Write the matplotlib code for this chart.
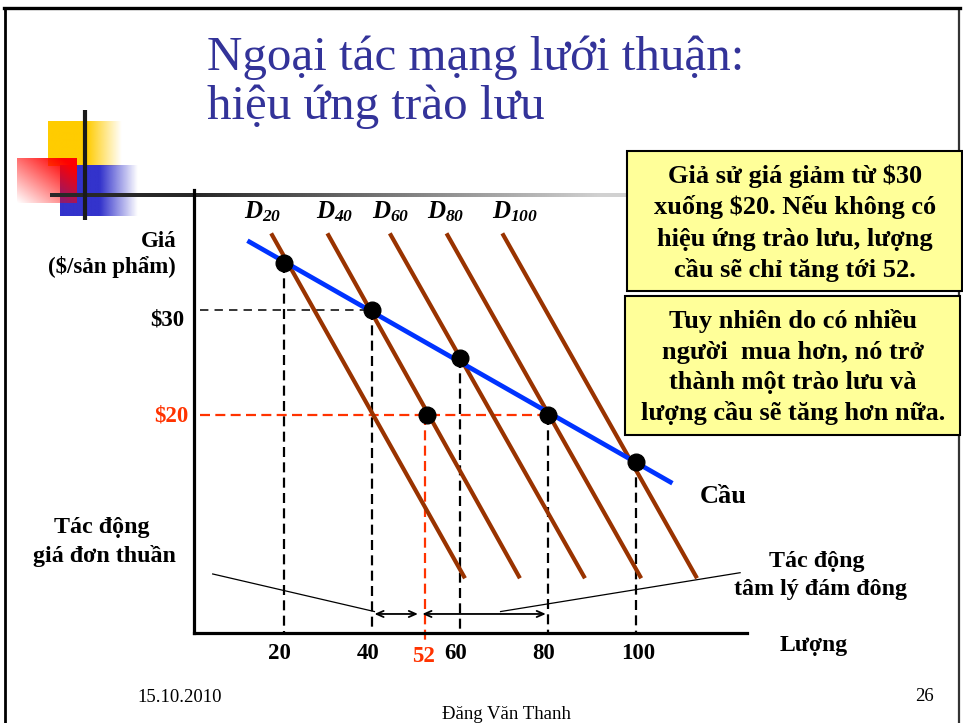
import matplotlib
matplotlib.use('Agg')
import matplotlib.pyplot as plt
import numpy as np
from matplotlib.patches import Rectangle

# ---------------- data ----------------
demand_q = [20, 40, 60, 80, 100]            # equilibrium quantities on the bandwagon demand
demand_p = [34.5, 30, 25.4, 20, 15.5]       # prices at those points
curve_names = ['D_{20}', 'D_{40}', 'D_{60}', 'D_{80}', 'D_{100}']
curve_top_q = [17.1, 29.9, 44.1, 57.0, 69.7]
curve_bottom_q = [61.2, 73.7, 88.5, 101.3, 114.0]
curve_top_p = 37.3
curve_bottom_p = 4.45
bandwagon_q = [11.7, 108.4]
bandwagon_p = [36.6, 13.5]
price_old = 30
price_new = 20
q_pure = 52            # quantity without bandwagon effect
q_pure_dot = 52.6
x_ticks = [20, 40, 60, 80, 100]
x_tick_labels = ['20', '40', '60', '80', '100']
arrow_p = 1.05
arrow_pure = [40.6, 50.5]
arrow_bandwagon = [51.5, 79.6]
callout_left_q = [3.8, 40.6]
callout_left_p = [4.86, 1.28]
callout_right_q = [69.3, 123.8]
callout_right_p = [1.28, 4.98]

title_lines = ['Ngoại tác mạng lưới thuận:', 'hiệu ứng trào lưu']
box1_lines = ['Giả sử giá giảm từ $30', 'xuống $20. Nếu không có',
              'hiệu ứng trào lưu, lượng', 'cầu sẽ chỉ tăng tới 52.']
box2_lines = ['Tuy nhiên do có nhiều', 'người  mua hơn, nó trở',
              'thành một trào lưu và', 'lượng cầu sẽ tăng hơn nữa.']

# ---------------- style ----------------
W, H = 963, 723
plt.rcParams['font.family'] = ['Liberation Serif', 'DejaVu Serif']
plt.rcParams['mathtext.fontset'] = 'custom'
plt.rcParams['mathtext.rm'] = 'Liberation Serif:bold:italic'
plt.rcParams['mathtext.it'] = 'Liberation Serif:bold:italic'
plt.rcParams['mathtext.bf'] = 'Liberation Serif:bold:italic'

BROWN = '#993300'
BLUE = '#0033FF'
RED = '#FF3300'
TITLE = '#333399'

fig = plt.figure(figsize=(W / 100, H / 100), dpi=100)
fig.patch.set_facecolor('white')

# background axes in pixel coordinates (decorations, frame, boxes)
bg = fig.add_axes([0, 0, 1, 1])
bg.set_axis_off()


def grad_h(color, x0, x1, y0, y1, solid_to, fade_to, n=200):
    xs = np.linspace(x0, x1, n)
    a = np.clip((fade_to - xs) / (fade_to - solid_to), 0, 1)
    rgb = matplotlib.colors.to_rgb(color)
    img = np.zeros((1, n, 4))
    img[..., 0], img[..., 1], img[..., 2] = rgb
    img[0, :, 3] = a
    bg.imshow(img, extent=(x0, x1, y1, y0), aspect='auto', interpolation='bilinear', zorder=1)


# yellow square with fade
grad_h('#FFCC00', 48, 122, 121, 166, 87, 122)
# blue square with fade
grad_h('#3333CC', 60, 138, 165, 216, 100, 138)
# red square with diagonal gradient
n = 100
u = np.linspace(0, 1, n)[None, :]
v = np.linspace(0, 1, n)[:, None]
alpha = np.clip((u + (1 - v)) / 2 * 1.15, 0, 1)
red = np.zeros((n, n, 4))
red[..., 0] = 1.0
red[..., 3] = alpha
bg.imshow(red, extent=(17, 77, 203, 158), aspect='auto', interpolation='bilinear', zorder=2)

# gray header bar with gradient
m = 400
xs = np.linspace(50, 627, m)
g = np.clip((xs - 200) / (600 - 200), 0, 1)
shade = 0.16 + g * (0.82 - 0.16)
bar = np.zeros((1, m, 4))
bar[0, :, 0] = shade
bar[0, :, 1] = shade
bar[0, :, 2] = shade
bar[0, :, 3] = 1
bg.imshow(bar, extent=(50, 627, 197, 193), aspect='auto', interpolation='bilinear', zorder=3)
# black vertical decoration
bg.plot([85, 85], [110, 220], color='#1a1a1a', lw=3.0, zorder=4, solid_capstyle='butt')

# slide frame
bg.plot([5.3, 5.3], [7.5, H], color='black', lw=2.0, zorder=4, solid_capstyle='butt')
bg.plot([958.5, 958.5], [7.5, H], color='#333333', lw=1.6, zorder=4, solid_capstyle='butt')
bg.plot([4, 960], [7.5, 7.5], color='black', lw=2.4, zorder=4, solid_capstyle='projecting')

# yellow boxes
bg.add_patch(Rectangle((627, 151), 335, 140, fc='#FFFF99', ec='black', lw=1.5, zorder=5))
bg.add_patch(Rectangle((625, 296), 335, 139, fc='#FFFF99', ec='black', lw=1.5, zorder=5))

bg.set_xlim(0, W)
bg.set_ylim(H, 0)


def ptxt(x, y, s, **kw):
    kw.setdefault('parse_math', False)
    kw.setdefault('va', 'baseline')
    return bg.text(x, y, s, **kw)


# title
ptxt(207, 70, title_lines[0], fontsize=35.3, color=TITLE)
ptxt(207, 119, title_lines[1], fontsize=35.3, color=TITLE)

# box texts
for i, s in enumerate(box1_lines):
    ptxt(795, 183 + i * 31.3, s, fontsize=19, fontweight='bold', ha='center', zorder=6)
for i, s in enumerate(box2_lines):
    ptxt(793, 328 + i * 30.7, s, fontsize=19, fontweight='bold', ha='center', zorder=6)

# side labels
ptxt(176, 247, 'Giá', fontsize=16.5, fontweight='bold', ha='right')
ptxt(176, 273, '($/sản phẩm)', fontsize=16.5, fontweight='bold', ha='right')
ptxt(102, 533, 'Tác động', fontsize=17.3, fontweight='bold', ha='center')
ptxt(104, 562, 'giá đơn thuần', fontsize=17.3, fontweight='bold', ha='center')
ptxt(817, 567, 'Tác động', fontsize=17.3, fontweight='bold', ha='center')
ptxt(820, 595, 'tâm lý đám đông', fontsize=17.3, fontweight='bold', ha='center')
ptxt(700, 503, 'Cầu', fontsize=19, fontweight='bold')
ptxt(780, 651, 'Lượng', fontsize=17, fontweight='bold')

# footer
ptxt(137, 702, '15.10.2010', fontsize=13.5)
ptxt(915, 701, '26', fontsize=13.5)
ptxt(506, 719, 'Đăng Văn Thanh', fontsize=13.5, ha='center')

# curve name labels
label_x = [244, 316, 372, 427, 492]
for x, name in zip(label_x, curve_names):
    bg.text(x, 218, r'$' + name + r'$', fontsize=18, va='baseline', ha='left')

# ---------------- chart axes ----------------
def q_of(px):
    return (px - 196) / 4.395


def p_of(py):
    return 20 + (415 - py) / 10.5


ax = fig.add_axes([194 / W, 1 - 633 / H, (747 - 194) / W, (633 - 190) / H])
ax.set_facecolor('none')
ax.set_xlim(q_of(194), q_of(747))
ymin, ymax = p_of(633), p_of(190)
ax.set_ylim(ymin, ymax)
for side in ['top', 'right']:
    ax.spines[side].set_visible(False)
for side in ['left', 'bottom']:
    ax.spines[side].set_linewidth(2.3)
    ax.spines[side].set_color('black')
ax.set_xticks([])
ax.set_yticks([])

# dashed guides
for q, p in zip(demand_q, demand_p):
    ax.plot([q, q], [p, ymin], color='black', lw=1.6, dashes=(4.5, 2.4), zorder=2)
ax.plot([q_of(200), demand_q[1]], [price_old, price_old], color='black', lw=1.1,
        dashes=(5.5, 4), zorder=2)
ax.plot([q_of(200), demand_q[3]], [price_new, price_new], color=RED, lw=1.6,
        dashes=(4.5, 2.4), zorder=2)
ax.plot([q_pure, q_pure], [price_new, p_of(645)], color=RED, lw=1.6,
        dashes=(4.5, 2.4), zorder=2, clip_on=False)

# demand curves
for tq, bq in zip(curve_top_q, curve_bottom_q):
    ax.plot([tq, bq], [curve_top_p, curve_bottom_p], color=BROWN, lw=3.0,
            solid_capstyle='butt', zorder=3)
ax.plot(bandwagon_q, bandwagon_p, color=BLUE, lw=3.4, solid_capstyle='butt', zorder=3.5)

# points
ax.plot(demand_q, demand_p, 'o', color='black', ms=12, zorder=5)
ax.plot([q_pure_dot], [price_new], 'o', color='black', ms=12, zorder=5)

# callout lines and arrows
ax.plot(callout_left_q, callout_left_p, color='black', lw=0.9, zorder=2)
ax.plot(callout_right_q, callout_right_p, color='black', lw=0.9, zorder=2)
for a0, a1 in [arrow_pure, arrow_bandwagon]:
    ax.annotate('', xy=(a1, arrow_p), xytext=(a0, arrow_p),
                arrowprops=dict(arrowstyle='<->,head_length=0.5,head_width=0.22',
                                lw=1.3, color='black', shrinkA=0, shrinkB=0,
                                mutation_scale=10), zorder=4)

# tick labels
for q, lab in zip(x_ticks, x_tick_labels):
    dx = 3 if q == 100 else -4
    ax.annotate(lab, xy=(q, ymin), xytext=(dx * 0.72, -7), textcoords='offset points',
                ha='center', va='top', fontsize=16.5, fontweight='bold',
                annotation_clip=False)
ax.annotate(str(q_pure), xy=(q_pure, ymin), xytext=(-1, -9.5), textcoords='offset points',
            ha='center', va='top', fontsize=16.5, fontweight='bold', color=RED,
            annotation_clip=False)
ax.annotate('$30', xy=(q_of(184), price_old), xytext=(0, -7.5), textcoords='offset points',
            ha='right', va='center', fontsize=16.5, fontweight='bold', parse_math=False,
            annotation_clip=False)
ax.annotate('$20', xy=(q_of(188), price_new), xytext=(0, -0.5), textcoords='offset points',
            ha='right', va='center', fontsize=16.5, fontweight='bold', color=RED,
            parse_math=False, annotation_clip=False)

fig.savefig('out.png', dpi=100)
